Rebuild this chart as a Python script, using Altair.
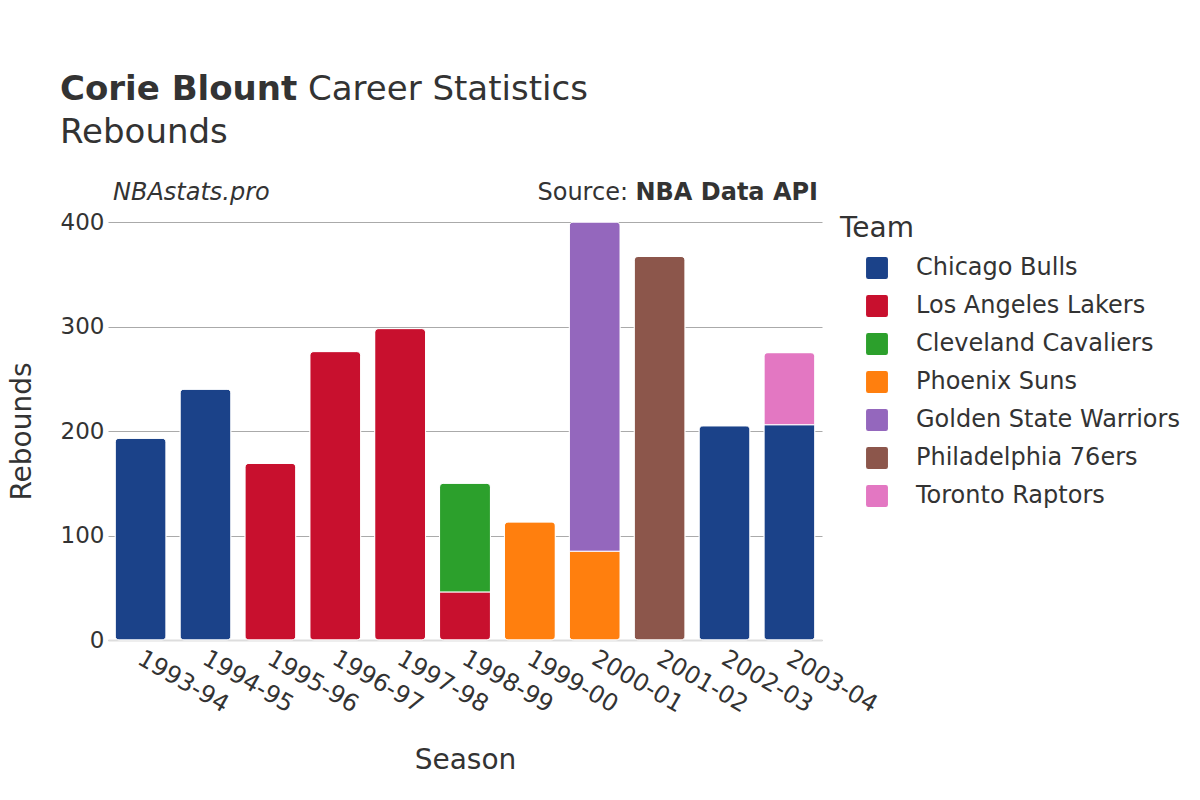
import altair as alt
import pandas as pd

seasons = ["1993-94", "1994-95", "1995-96", "1996-97", "1997-98", "1998-99",
           "1998-99", "1999-00", "2000-01", "2000-01", "2001-02", "2002-03",
           "2003-04", "2003-04"]
teams = ["Chicago Bulls", "Chicago Bulls", "Los Angeles Lakers", "Los Angeles Lakers",
         "Los Angeles Lakers", "Los Angeles Lakers", "Cleveland Cavaliers", "Phoenix Suns",
         "Phoenix Suns", "Golden State Warriors", "Philadelphia 76ers", "Chicago Bulls",
         "Chicago Bulls", "Toronto Raptors"]
rebounds = [193, 240, 169, 276, 298, 46, 104, 113, 85, 315, 367, 205, 206, 69]

team_order = ["Chicago Bulls", "Los Angeles Lakers", "Cleveland Cavaliers", "Phoenix Suns",
              "Golden State Warriors", "Philadelphia 76ers", "Toronto Raptors"]
team_colors = ["#1b4289", "#c8102e", "#2ca02c", "#ff7f0e", "#9467bd", "#8c564b", "#e377c2"]

df = pd.DataFrame({"Season": seasons, "Team": teams, "Rebounds": rebounds})
df["ord"] = df["Team"].map({t: i for i, t in enumerate(team_order)})

FONT = "DejaVu Sans"
TXT = "#333333"

bars = alt.Chart(df).mark_bar(cornerRadius=4, stroke="white", strokeWidth=1).encode(
    x=alt.X("Season:N", title="Season", scale=alt.Scale(paddingInner=0.215, paddingOuter=0.11),
            axis=alt.Axis(labelAngle=30, labelAlign="left", labelBaseline="top",
                          labelFontSize=24, titleFontSize=28, titlePadding=30,
                          labelPadding=6, labelOffset=5, ticks=False, domainColor="#dddddd",
                          domainWidth=2, labelColor=TXT, titleColor=TXT,
                          titleFontWeight="normal")),
    y=alt.Y("sum(Rebounds):Q", title="Rebounds", stack="zero",
            scale=alt.Scale(domain=[0, 400], nice=False),
            axis=alt.Axis(values=[0, 100, 200, 300, 400], labelFontSize=23, titleFontSize=28,
                          gridColor="#aaaaaa", domain=False, ticks=False, labelPadding=4,
                          titlePadding=24, labelColor=TXT, titleColor=TXT,
                          titleFontWeight="normal")),
    color=alt.Color("Team:N", scale=alt.Scale(domain=team_order, range=team_colors),
                    legend=alt.Legend(title="Team", orient="none", legendX=732, legendY=-7,
                                      titleFontSize=28, labelFontSize=24, titleColor=TXT,
                                      labelColor=TXT, titleFontWeight="normal", labelLimit=0,
                                      symbolType="M-0.8,-1 L0.8,-1 Q1,-1 1,-0.8 L1,0.8 Q1,1 0.8,1 L-0.8,1 Q-1,1 -1,0.8 L-1,-0.8 Q-1,-1 -0.8,-1 Z",
                                      symbolSize=480, symbolOffset=25, symbolStrokeWidth=0,
                                      symbolOpacity=1, labelOffset=27, rowPadding=14,
                                      titlePadding=13)),
    order=alt.Order("ord:Q"),
)

one = alt.Data(values=[{"a": 1}])

def txt(text, x, y, size, weight="normal", style="normal", align="left"):
    return alt.Chart(one).mark_text(text=text, font=FONT, fontSize=size, fontWeight=weight,
                                    fontStyle=style, align=align, baseline="alphabetic",
                                    color=TXT).encode(x=alt.value(x), y=alt.value(y))

t1 = txt("Corie Blount", -48, -122, 34, weight="bold")
t2 = txt("Career Statistics", 200, -122, 34)
t3 = txt("Rebounds", -48, -79, 34)
t4 = txt("NBAstats.pro", 5, -22, 24, style="italic")
t5 = txt("NBA Data API", 710, -22, 24, weight="bold", align="right")
t6 = txt("Source:", 520, -22, 24, align="right")

chart = alt.layer(bars, t1, t2, t3, t4, t5, t6).properties(
    width=714, height=418,
    autosize=alt.AutoSizeParams(type="none"),
    padding={"left": 100, "top": 214, "right": 370, "bottom": 152},
).configure(font=FONT).configure_view(stroke=None)

chart.save("out.html", embed_options={"renderer": "svg", "actions": False})
